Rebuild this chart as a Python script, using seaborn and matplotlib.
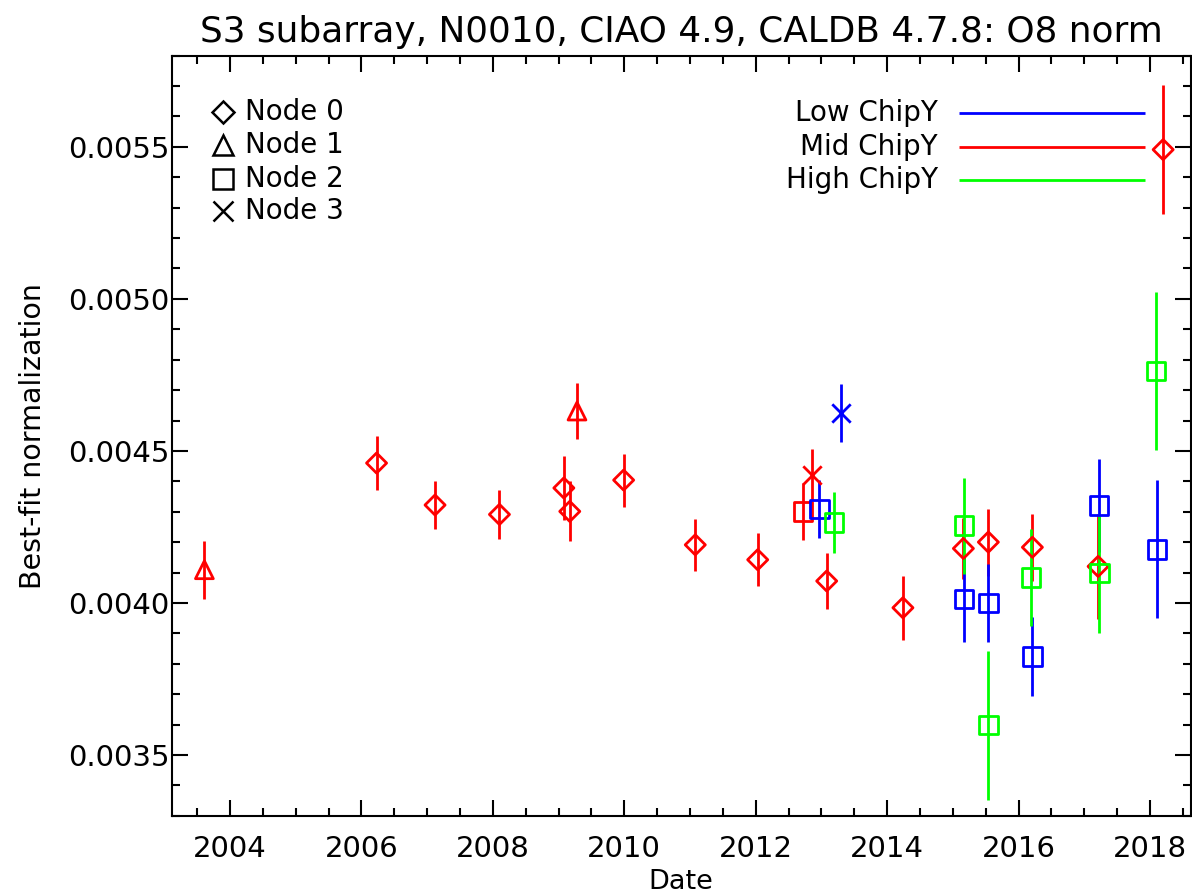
import numpy as np
import pandas as pd
import matplotlib
matplotlib.use("Agg")
import matplotlib.pyplot as plt
import seaborn as sns
from matplotlib.ticker import MultipleLocator, FormatStrFormatter

# ---------------- data ----------------
# Node 0 (diamond), all Mid ChipY
n0_date = [2006.23, 2007.12, 2008.10, 2009.08, 2009.17, 2009.99, 2011.08,
           2012.03, 2013.08, 2014.24, 2015.16, 2015.54, 2016.21, 2017.21, 2018.20]
n0_norm = [0.004460, 0.004322, 0.004291, 0.004378, 0.004301, 0.004404, 0.004191,
           0.004142, 0.004072, 0.003984, 0.004179, 0.004200, 0.004183, 0.004120, 0.005491]
n0_err = [0.000088, 0.000078, 0.000082, 0.000105, 0.000099, 0.000087, 0.000086,
          0.000088, 0.000092, 0.000106, 0.000099, 0.000110, 0.000110, 0.000173, 0.000212]
n0_chip = ["Mid ChipY"] * 15

# Node 1 (triangle), Mid ChipY
n1_date = [2003.61, 2009.28]
n1_norm = [0.004109, 0.004631]
n1_err = [0.000096, 0.000093]
n1_chip = ["Mid ChipY", "Mid ChipY"]

# Node 2 (square)
n2_date = [2012.72,
           2012.97, 2015.17, 2015.54, 2016.21, 2017.22, 2018.11,
           2013.19, 2015.17, 2015.54, 2016.19, 2017.23, 2018.09]
n2_norm = [0.004301,
           0.004308, 0.004013, 0.003999, 0.003824, 0.004321, 0.004176,
           0.004264, 0.004254, 0.003598, 0.004083, 0.004098, 0.004763]
n2_err = [0.000093,
          0.000095, 0.000143, 0.000129, 0.000131, 0.000154, 0.000227,
          0.000100, 0.000158, 0.000245, 0.000160, 0.000196, 0.000260]
n2_chip = ["Mid ChipY"] + ["Low ChipY"] * 6 + ["High ChipY"] * 6

# Node 3 (cross)
n3_date = [2012.86, 2013.29]
n3_norm = [0.004420, 0.004624]
n3_err = [0.000085, 0.000095]
n3_chip = ["Mid ChipY", "Low ChipY"]

node_labels = ["Node 0", "Node 1", "Node 2", "Node 3"]
chip_labels = ["Low ChipY", "Mid ChipY", "High ChipY"]
title = "S3 subarray, N0010, CIAO 4.9, CALDB 4.7.8: O8 norm"

# ---------------- assemble ----------------
frames = []
for node, (d, v, e, c) in enumerate([(n0_date, n0_norm, n0_err, n0_chip),
                                     (n1_date, n1_norm, n1_err, n1_chip),
                                     (n2_date, n2_norm, n2_err, n2_chip),
                                     (n3_date, n3_norm, n3_err, n3_chip)]):
    frames.append(pd.DataFrame({"date": d, "norm": v, "err": e,
                                "chip": c, "node": node}))
df = pd.concat(frames, ignore_index=True)

colors = {"Low ChipY": "#0000ff", "Mid ChipY": "#ff0000", "High ChipY": "#00ff00"}
markers = {0: "D", 1: "^", 2: "s", 3: "x"}
msize = {0: 105, 1: 165, 2: 175, 3: 175}

# ---------------- style ----------------
sns.set_style("ticks")
plt.rcParams["font.family"] = ["DejaVu Sans"]
plt.rcParams["axes.linewidth"] = 1.5
for k in ["text.color", "axes.labelcolor", "xtick.color", "ytick.color", "axes.edgecolor"]:
    plt.rcParams[k] = "black"

fig = plt.figure(figsize=(11.92, 8.96), dpi=100)
ax = fig.add_axes([172 / 1192, 1 - 815.7 / 896, (1190.5 - 172) / 1192, (815.7 - 55.7) / 896])

LW = 2.0
for chip in ["Mid ChipY", "Low ChipY", "High ChipY"]:
    sub = df[df["chip"] == chip]
    col = colors[chip]
    ax.errorbar(sub["date"], sub["norm"], yerr=sub["err"], fmt="none",
                ecolor=col, elinewidth=LW, capsize=0, zorder=2)
    for node in range(4):
        s2 = sub[sub["node"] == node]
        if len(s2) == 0:
            continue
        if markers[node] == "x":
            sns.scatterplot(data=s2, x="date", y="norm", marker="x", s=msize[node],
                            color=col, linewidth=LW, ax=ax, zorder=3, legend=False)
        else:
            sns.scatterplot(data=s2, x="date", y="norm", marker=markers[node],
                            s=msize[node], color=col, facecolor="none", edgecolor=col,
                            linewidth=LW, ax=ax, zorder=3, legend=False)

# ---------------- axes ----------------
ax.set_xlim(2003.117, 2018.616)
ax.set_ylim(0.0033, 0.0058)
ax.xaxis.set_major_locator(MultipleLocator(2))
ax.xaxis.set_minor_locator(MultipleLocator(0.5))
ax.yaxis.set_major_locator(MultipleLocator(0.0005))
ax.yaxis.set_minor_locator(MultipleLocator(0.0001))
ax.yaxis.set_major_formatter(FormatStrFormatter("%.4f"))
ax.xaxis.set_major_formatter(FormatStrFormatter("%d"))
ax.tick_params(which="both", direction="in", top=True, right=True, width=1.5, colors="black")
ax.tick_params(which="major", length=11.5, labelsize=21)
ax.tick_params(which="minor", length=5.8)
ax.tick_params(axis="x", which="major", pad=14)
ax.tick_params(axis="y", which="major", pad=2)
for sp in ax.spines.values():
    sp.set_visible(True)
    sp.set_linewidth(1.5)
    sp.set_color("black")

ax.set_xlabel("Date", fontsize=19.5, labelpad=4)
ax.set_ylabel("Best-fit normalization", fontsize=20.5, labelpad=15)
ax.set_title(title, fontsize=25.8, pad=10)

# ---------------- legends ----------------
node_y = [0.926, 0.882, 0.838, 0.796]
leg_ms = {0: 11, 1: 15, 2: 15, 3: 14}
for i, lab in enumerate(node_labels):
    ax.plot([0.0503], [node_y[i]], transform=ax.transAxes, marker=markers[i],
            ms=leg_ms[i], mfc="none", mec="black", color="black", mew=1.8, linestyle="none")
    ax.text(0.0714, node_y[i], lab, transform=ax.transAxes, fontsize=20,
            va="center", ha="left")

chip_y = [0.9246, 0.8799, 0.8364]
for i, lab in enumerate(chip_labels):
    ax.text(0.752, chip_y[i], lab, transform=ax.transAxes, fontsize=20,
            va="center", ha="right")
    ax.plot([0.773, 0.955], [chip_y[i], chip_y[i]], transform=ax.transAxes,
            color=colors[lab], lw=LW, solid_capstyle="butt")

fig.savefig("out.png", dpi=100)
